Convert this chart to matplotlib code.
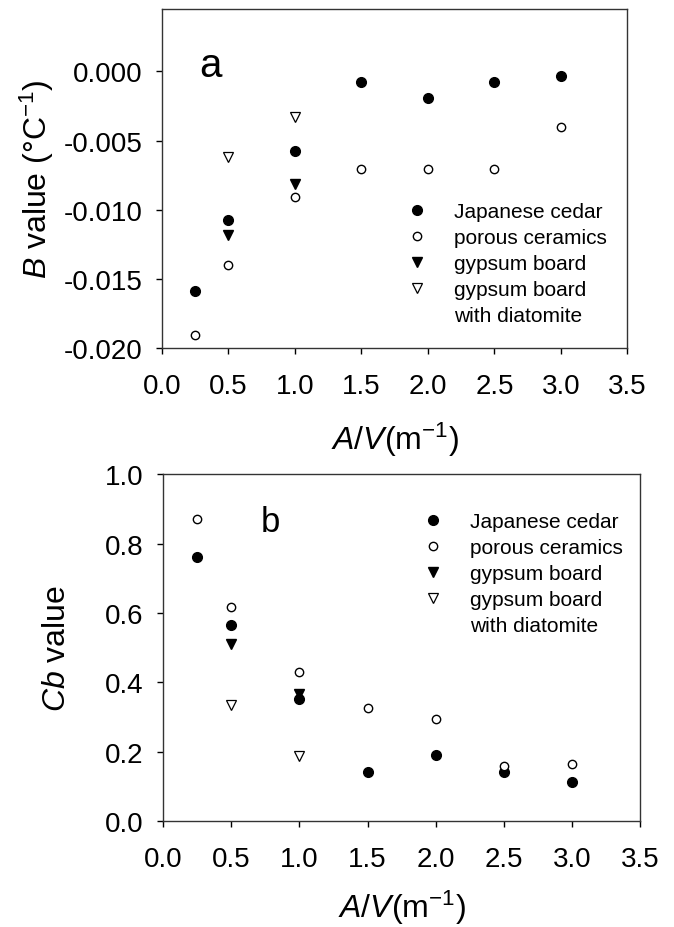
import matplotlib
matplotlib.use('Agg')
import matplotlib.pyplot as plt

plt.rcParams['font.family'] = ['Liberation Sans', 'DejaVu Sans']
plt.rcParams['mathtext.fontset'] = 'custom'
plt.rcParams['mathtext.rm'] = 'Liberation Sans'
plt.rcParams['mathtext.it'] = 'Liberation Sans:italic'

# A/V (m^-1)
av_cedar = [0.25, 0.5, 1.0, 1.5, 2.0, 2.5, 3.0]
av_ceramics = [0.25, 0.5, 1.0, 1.5, 2.0, 2.5, 3.0]
av_gypsum = [0.5, 1.0]
av_diatomite = [0.5, 1.0]

# panel a: B value
b_cedar = [-0.01585, -0.01073, -0.00575, -0.0008, -0.00194, -0.00073, -0.00034]
b_ceramics = [-0.01905, -0.01403, -0.00905, -0.00704, -0.00704, -0.00704, -0.00403]
b_gypsum = [-0.01182, -0.00811]
b_diatomite = [-0.00619, -0.00328]

# panel b: Cb value
cb_cedar = [0.762, 0.566, 0.352, 0.141, 0.192, 0.143, 0.112]
cb_ceramics = [0.870, 0.618, 0.429, 0.327, 0.294, 0.160, 0.164]
cb_gypsum = [0.512, 0.367]
cb_diatomite = [0.335, 0.189]

labels = ['Japanese cedar', 'porous ceramics', 'gypsum board', 'gypsum board']
extra_label = 'with diatomite'
xticks = [0.0, 0.5, 1.0, 1.5, 2.0, 2.5, 3.0, 3.5]
b_ticks = [0.0, -0.005, -0.010, -0.015, -0.020]
b_ticklabels = ['0.000', '-0.005', '-0.010', '-0.015', '-0.020']
cb_ticks = [0.0, 0.2, 0.4, 0.6, 0.8, 1.0]
cb_ticklabels = ['0.0', '0.2', '0.4', '0.6', '0.8', '1.0']
tick_size = 20

fig = plt.figure(figsize=(6.74, 9.28), dpi=100)
ax1 = fig.add_axes([0.240, 0.624, 0.691, 0.365])
ax2 = fig.add_axes([0.242, 0.114, 0.708, 0.374])


def draw(ax, yc, yr, yg, yd, xpad):
    ax.plot(av_cedar, yc, 'o', ms=7, mfc='black', mec='black', ls='none', label=labels[0])
    ax.plot(av_ceramics, yr, 'o', ms=6, mfc='white', mec='black', mew=1.0, ls='none', label=labels[1])
    ax.plot(av_gypsum, yg, 'v', ms=6.5, mfc='black', mec='black', ls='none', label=labels[2])
    ax.plot(av_diatomite, yd, 'v', ms=6.5, mfc='white', mec='black', mew=0.9, ls='none', label=labels[3])
    ax.plot([], [], ls='none', marker='none', label=extra_label)
    for s in ax.spines.values():
        s.set_linewidth(1.0)
        s.set_color('#333333')
    ax.tick_params(direction='out', length=4, width=1, top=False, right=False)
    ax.tick_params(axis='x', pad=14)
    ax.tick_params(axis='y', pad=10)
    ax.set_xlim(0, 3.5)
    ax.set_xticks(xticks)
    ax.set_xticklabels(['{:.1f}'.format(t) for t in xticks], fontsize=tick_size)
    ax.set_xlabel(r'$\mathit{A/V}$(m$^{-1}$)', fontsize=23, labelpad=xpad)


def legend(ax, anchor):
    ax.legend(loc='upper left', bbox_to_anchor=anchor, frameon=False, fontsize=15,
              handlelength=0.8, handletextpad=1.4, labelspacing=0.33,
              borderpad=0, borderaxespad=0)


draw(ax1, b_cedar, b_ceramics, b_gypsum, b_diatomite, 15)
ax1.set_ylim(-0.020, 0.0045)
ax1.set_yticks(b_ticks)
ax1.set_yticklabels(b_ticklabels, fontsize=tick_size)
ax1.set_ylabel(r'$\mathit{B}$ value (°C$^{-1}$)', fontsize=23, labelpad=5)
ax1.text(0.37, -0.0003, 'a', fontsize=29, ha='center', va='baseline')
legend(ax1, (0.53, 0.43))

draw(ax2, cb_cedar, cb_ceramics, cb_gypsum, cb_diatomite, 11)
ax2.set_ylim(0, 1.0)
ax2.set_yticks(cb_ticks)
ax2.set_yticklabels(cb_ticklabels, fontsize=tick_size)
ax2.set_ylabel(r'$\mathit{Cb}$ value', fontsize=23, labelpad=24)
ax2.text(0.79, 0.836, 'b', fontsize=25, ha='center', va='baseline')
legend(ax2, (0.548, 0.89))

fig.savefig('out.png', dpi=100)
